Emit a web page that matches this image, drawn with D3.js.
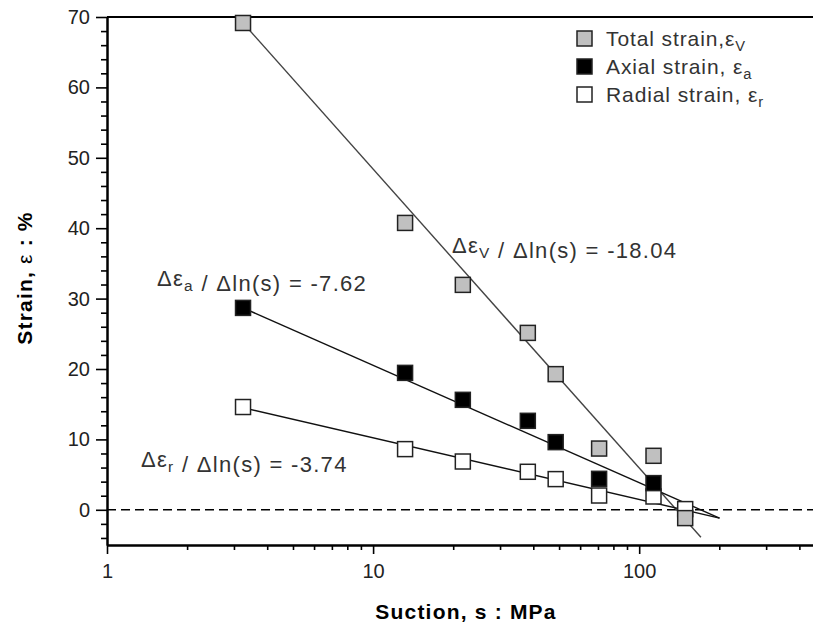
<!DOCTYPE html>
<html>
<head>
<meta charset="utf-8">
<script src="https://cdn.jsdelivr.net/npm/d3@7"></script>
<style>
  body { margin: 0; background: #fff; }
  svg { display: block; font-family: "Liberation Sans", Arial, sans-serif; }
  .tick text { font-size: 20px; fill: #222; }
  .axis path, .axis line { stroke: #000; }
</style>
</head>
<body>
<div id="chart"></div>
<script>
// suction (MPa) of each test step
const suction = [3.245, 13.19, 21.74, 38.15, 48.55, 70.7, 113.2, 148.9];
// strains (%)
const totalStrain = [69.15, 40.75, 31.95, 25.13, 19.27, 8.7, 7.67, -1.18];
const axialStrain = [28.68, 19.45, 15.62, 12.64, 9.61, 4.4, 3.79, null];
const radialStrain = [14.6, 8.62, 6.86, 5.4, 4.36, 2.03, 1.89, 0.1];
// fitted lines, [suction, strain] at both ends
const totalFit = [[3.245, 69.15], [170.6, -3.9]];
const axialFit = [[3.245, 28.68], [200.4, -1.18]];
const radialFit = [[3.03, 14.77], [200.4, -1.18]];
// axis ticks
const yMajor = [0, 10, 20, 30, 40, 50, 60, 70];
const yMinor = d3.range(-4, 70, 2).filter((v) => v % 10 !== 0);
const xMajor = [1, 10, 100];
const xMinor = [2, 3, 4, 5, 6, 7, 8, 9, 20, 30, 40, 50, 60, 70, 80, 90, 200, 300, 400];

const width = 813;
const height = 626;
const margin = { top: 17, right: 0, bottom: 81, left: 107 };

const svg = d3.select('#chart').append('svg').attr('width', width).attr('height', height);

const x = d3.scaleLog().domain([1, 450]).range([margin.left, width - margin.right]);
const y = d3.scaleLinear().domain([-5, 70]).range([height - margin.bottom, margin.top]);

// frame: top line and zero line
svg.append('line')
  .attr('x1', margin.left).attr('x2', width)
  .attr('y1', y(70)).attr('y2', y(70))
  .attr('stroke', '#000').attr('stroke-width', 2);

svg.append('line')
  .attr('x1', margin.left).attr('x2', width)
  .attr('y1', y(0)).attr('y2', y(0))
  .attr('stroke', '#000').attr('stroke-width', 1.5)
  .attr('stroke-dasharray', '9,5');

// axes
const yAxis = svg.append('g').attr('class', 'axis').attr('transform', `translate(${margin.left},0)`);
yAxis.call(d3.axisLeft(y).tickValues(yMinor).tickSize(6).tickSizeOuter(0).tickFormat(''));
yAxis.append('g').call(d3.axisLeft(y).tickValues(yMajor).tickSize(11).tickSizeOuter(0).tickPadding(6));
yAxis.selectAll('path').attr('stroke-width', 2);
yAxis.selectAll('line').attr('stroke-width', 1.6);

const xAxis = svg.append('g').attr('class', 'axis').attr('transform', `translate(0,${height - margin.bottom})`);
xAxis.call(d3.axisBottom(x).tickValues(xMinor).tickSize(5).tickSizeOuter(0).tickFormat(''));
xAxis.append('g').call(d3.axisBottom(x).tickValues(xMajor).tickSize(9).tickSizeOuter(0).tickPadding(10).tickFormat(d3.format('d')));
xAxis.selectAll('path').attr('stroke-width', 2);
xAxis.selectAll('line').attr('stroke-width', 1.6);

// d3 puts sans-serif / 10px on the axis groups, drop it so the page font applies
svg.selectAll('.axis, .axis g').attr('font-family', null).attr('font-size', null);

// axis titles
svg.append('text')
  .attr('x', 466).attr('y', 619)
  .attr('text-anchor', 'middle')
  .attr('font-size', 21).attr('font-weight', 'bold').attr('letter-spacing', 1.2)
  .text('Suction, s : MPa');

const yTitle = svg.append('text')
  .attr('transform', 'translate(32,278) rotate(-90)')
  .attr('text-anchor', 'middle')
  .attr('font-size', 21).attr('font-weight', 'bold').attr('letter-spacing', 1.2);
yTitle.append('tspan').text('Strain, ');
yTitle.append('tspan').attr('font-weight', 'normal').text('ε');
yTitle.append('tspan').text(' : %');

// fitted lines
const line = d3.line().x((d) => x(d[0])).y((d) => y(d[1]));
[
  [totalFit, '#444'],
  [axialFit, '#111'],
  [radialFit, '#111']
].forEach(([fit, color]) => {
  svg.append('path').datum(fit).attr('d', line)
    .attr('fill', 'none').attr('stroke', color).attr('stroke-width', 1.4);
});

// markers
const size = 15;
const series = [
  { values: radialStrain, fill: '#fff' },
  { values: axialStrain, fill: '#000' },
  { values: totalStrain, fill: '#c0c0c0' }
];
series.forEach((s) => {
  const pts = suction.map((v, i) => [v, s.values[i]]).filter((d) => d[1] != null);
  svg.append('g').selectAll('rect')
    .data(pts)
    .join('rect')
    .attr('x', (d) => x(d[0]) - size / 2)
    .attr('y', (d) => y(d[1]) - size / 2)
    .attr('width', size).attr('height', size)
    .attr('fill', s.fill)
    .attr('stroke', '#222').attr('stroke-width', 1.5);
});

// text with a subscript part
function subText(g, parts) {
  parts.forEach(([str, sub]) => {
    if (sub) {
      g.append('tspan').attr('font-size', '0.7em').attr('dy', 5).text(str);
      g.append('tspan').attr('dy', -5).text('');
    } else {
      g.append('tspan').text(str);
    }
  });
}

// slope annotations
const notes = [
  { x: 452, y: 253, parts: [['Δε'], ['V', true], [' / Δln(s) = -18.04']] },
  { x: 157, y: 286, parts: [['Δε'], ['a', true], [' / Δln(s) = -7.62']] },
  { x: 141, y: 467, parts: [['Δε'], ['r', true], [' / Δln(s) = -3.74']] }
];
notes.forEach((n) => {
  const t = svg.append('text').attr('x', n.x).attr('y', n.y)
    .attr('font-size', 22).attr('fill', '#333').attr('letter-spacing', 1.3);
  subText(t, n.parts);
});

// legend
const legendItems = [
  { fill: '#c0c0c0', parts: [['Total strain,ε'], ['V', true]] },
  { fill: '#000', parts: [['Axial strain, ε'], ['a', true]] },
  { fill: '#fff', parts: [['Radial strain, ε'], ['r', true]] }
];
const legend = svg.append('g').attr('transform', 'translate(577,31)');
legendItems.forEach((item, i) => {
  const row = legend.append('g').attr('transform', `translate(0,${i * 28})`);
  row.append('rect').attr('width', size).attr('height', size)
    .attr('fill', item.fill).attr('stroke', '#222').attr('stroke-width', 1.5);
  const t = row.append('text').attr('x', 29).attr('y', 15)
    .attr('font-size', 21).attr('fill', '#333').attr('letter-spacing', 0.9);
  subText(t, item.parts);
});
</script>
</body>
</html>
